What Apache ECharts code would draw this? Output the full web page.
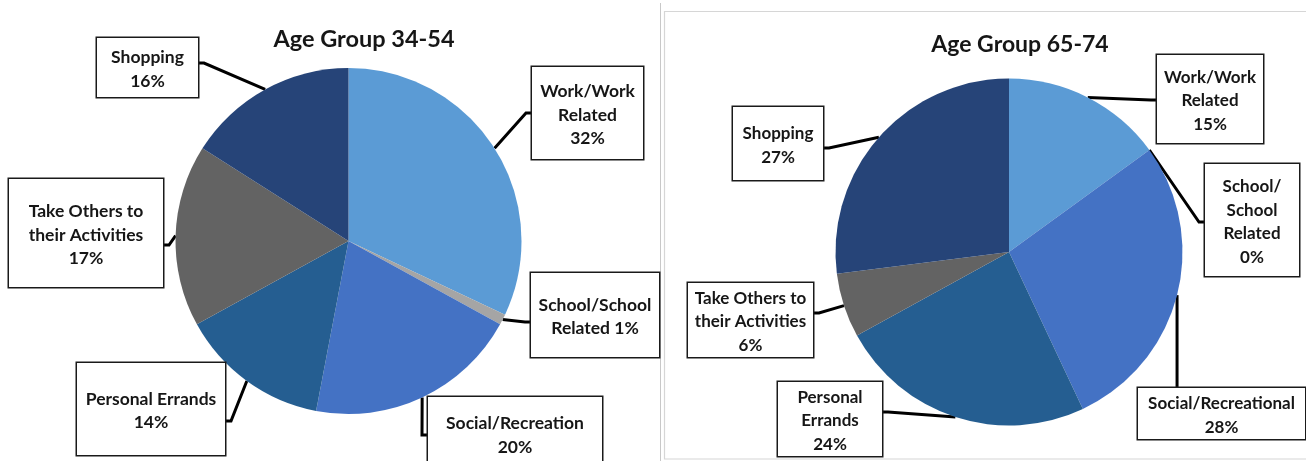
<!DOCTYPE html>
<html>
<head>
<meta charset="utf-8">
<title>Trip purpose by age group</title>
<script src="https://cdn.jsdelivr.net/npm/echarts@6/dist/echarts.min.js"></script>
<style>
  html, body { margin: 0; padding: 0; background: #ffffff; }
  #chart { width: 1306px; height: 461px; }
</style>
</head>
<body>
<div id="chart"></div>
<script>
// Trip purposes, in pie order (clockwise from 12 o'clock)
const categories = [
  'Work/Work Related',
  'School/School Related',
  'Social/Recreation',
  'Personal Errands',
  'Take Others to their Activities',
  'Shopping'
];

// Share of trips (%) for each age group
const values3454 = [32, 1, 20, 14, 17, 16];
const values6574 = [15, 0, 28, 24, 6, 27];

// Label wording per chart; {v} is replaced by the slice value
const labels3454 = [
  'Work/Work\nRelated\n{v}%',
  'School/School\nRelated {v}%',
  'Social/Recreation\n{v}%',
  'Personal Errands\n{v}%',
  'Take Others to\ntheir Activities\n{v}%',
  'Shopping\n{v}%'
];
const labels6574 = [
  'Work/Work\nRelated\n{v}%',
  'School/\nSchool\nRelated\n{v}%',
  'Social/Recreational\n{v}%',
  'Personal\nErrands\n{v}%',
  'Take Others to\ntheir Activities\n{v}%',
  'Shopping\n{v}%'
];

const titles = ['Age Group 34-54', 'Age Group 65-74'];

// Slice colours (same order as categories)
const sliceColors = ['#5B9BD5', '#A5A5A5', '#4472C4', '#255E91', '#636363', '#264478'];

// Callout boxes: centre, size, side the leader line enters, and offset along that side
const boxes3454 = [
  { cx: 587.5, cy: 113,   w: 111, h: 92,  side: 'left',  d: 0 },
  { cx: 595,   cy: 315,   w: 128, h: 84,  side: 'left',  d: 7 },
  { cx: 515,   cy: 433.5, w: 174, h: 73,  side: 'left',  d: 1.5 },
  { cx: 151,   cy: 409,   w: 148, h: 92,  side: 'right', d: 12 },
  { cx: 86,    cy: 233,   w: 154, h: 108, side: 'right', d: 12 },
  { cx: 147.5, cy: 67.5,  w: 101, h: 59,  side: 'right', d: -4.5 }
];
const boxes6574 = [
  { cx: 1210,   cy: 99,    w: 106, h: 88,  side: 'left',  d: 1 },
  { cx: 1252,   cy: 220,   w: 94,  h: 112, side: 'left',  d: 2 },
  { cx: 1221.5, cy: 413.5, w: 167, h: 51,  side: 'top',   d: 0 },
  { cx: 830,    cy: 419,   w: 104, h: 74,  side: 'right', d: -7 },
  { cx: 750.5,  cy: 320,   w: 125, h: 74,  side: 'right', d: -7 },
  { cx: 778,    cy: 143.5, w: 90,  h: 73,  side: 'right', d: 4.5 }
];

const TEXT_COLOR = '#161616';
const FONT = 'Lato, "Open Sans", "DejaVu Sans", sans-serif';
const LINE_H = 23.5;
const TEXT_NUDGE = 2; // glyphs sit a little low inside each box

function buildData(values, labels, boxes) {
  return categories.map(function (name, i) {
    const text = labels[i].replace('{v}', String(values[i]));
    const nLines = text.split('\n').length;
    const padTop = Math.max(0, (boxes[i].h - nLines * LINE_H) / 2 + TEXT_NUDGE);
    return {
      name: name,
      value: values[i],
      itemStyle: { color: sliceColors[i] },
      label: { formatter: text, padding: [padTop, 0, 0, 0] }
    };
  });
}

// Place each callout box and draw an elbowed leader from the slice's mid-arc point
function calloutLayout(boxes, data) {
  return function (params) {
    const b = boxes[params.dataIndex];
    const padTop = data[params.dataIndex].label.padding[0];
    const pts = params.labelLinePoints;
    const anchor = pts && pts.length ? pts[0] : [b.cx, b.cy];
    let edge, elbow;
    if (b.side === 'left') {
      edge = [b.cx - b.w / 2, b.cy + b.d];
      elbow = [edge[0] - 6, edge[1]];
    } else if (b.side === 'right') {
      edge = [b.cx + b.w / 2, b.cy + b.d];
      elbow = [edge[0] + 6, edge[1]];
    } else {
      edge = [anchor[0], b.cy - b.h / 2];
      elbow = [anchor[0], edge[1] - 6];
    }
    return {
      x: b.cx,
      y: b.cy - b.h / 2,
      align: 'center',
      verticalAlign: 'top',
      width: b.w,
      height: b.h - padTop,
      labelLinePoints: [anchor, elbow, edge]
    };
  };
}

function pieSeries(values, labels, boxes, center, radius, fontSize) {
  const data = buildData(values, labels, boxes);
  return {
    type: 'pie',
    center: center,
    radius: radius,
    startAngle: 90,
    clockwise: true,
    avoidLabelOverlap: false,
    minShowLabelAngle: 0,
    animation: false,
    silent: true,
    itemStyle: { borderWidth: 0 },
    emphasis: { disabled: true },
    label: {
      show: true,
      position: 'outside',
      alignTo: 'none',
      overflow: 'none',
      color: TEXT_COLOR,
      fontFamily: FONT,
      fontWeight: 'bold',
      fontSize: fontSize,
      lineHeight: LINE_H,
      backgroundColor: '#ffffff',
      borderColor: '#1a1a1a',
      borderWidth: 1.5
    },
    labelLine: {
      show: true,
      length: 10,
      length2: 10,
      smooth: false,
      lineStyle: { color: '#000000', width: 3 }
    },
    labelLayout: calloutLayout(boxes, data),
    data: data
  };
}

const chart = echarts.init(document.getElementById('chart'), null, { renderer: 'canvas' });

chart.setOption({
  backgroundColor: '#ffffff',
  animation: false,
  title: [
    {
      text: titles[0], left: 359, top: 22, textAlign: 'center',
      textStyle: { fontFamily: FONT, fontWeight: 'bold', fontSize: 23.5, color: TEXT_COLOR }
    },
    {
      text: titles[1], left: 1015, top: 28, textAlign: 'center',
      textStyle: { fontFamily: FONT, fontWeight: 'bold', fontSize: 23, color: TEXT_COLOR }
    }
  ],
  graphic: [
    // divider between the two panels and the frame of the right-hand panel
    {
      type: 'line', silent: true, z: -1,
      shape: { x1: 660.5, y1: 3, x2: 660.5, y2: 461 },
      style: { stroke: '#c8c8c8', lineWidth: 1 }
    },
    {
      type: 'rect', silent: true, z: -1,
      shape: { x: 664.5, y: 11.5, width: 650, height: 447.5 },
      style: { fill: 'none', stroke: '#d6d6d6', lineWidth: 1.2 }
    }
  ],
  series: [
    pieSeries(values3454, labels3454, boxes3454, [348.5, 241], 173, 17.5),
    pieSeries(values6574, labels6574, boxes6574, [1009, 252], 173.5, 17)
  ]
});
</script>
</body>
</html>
